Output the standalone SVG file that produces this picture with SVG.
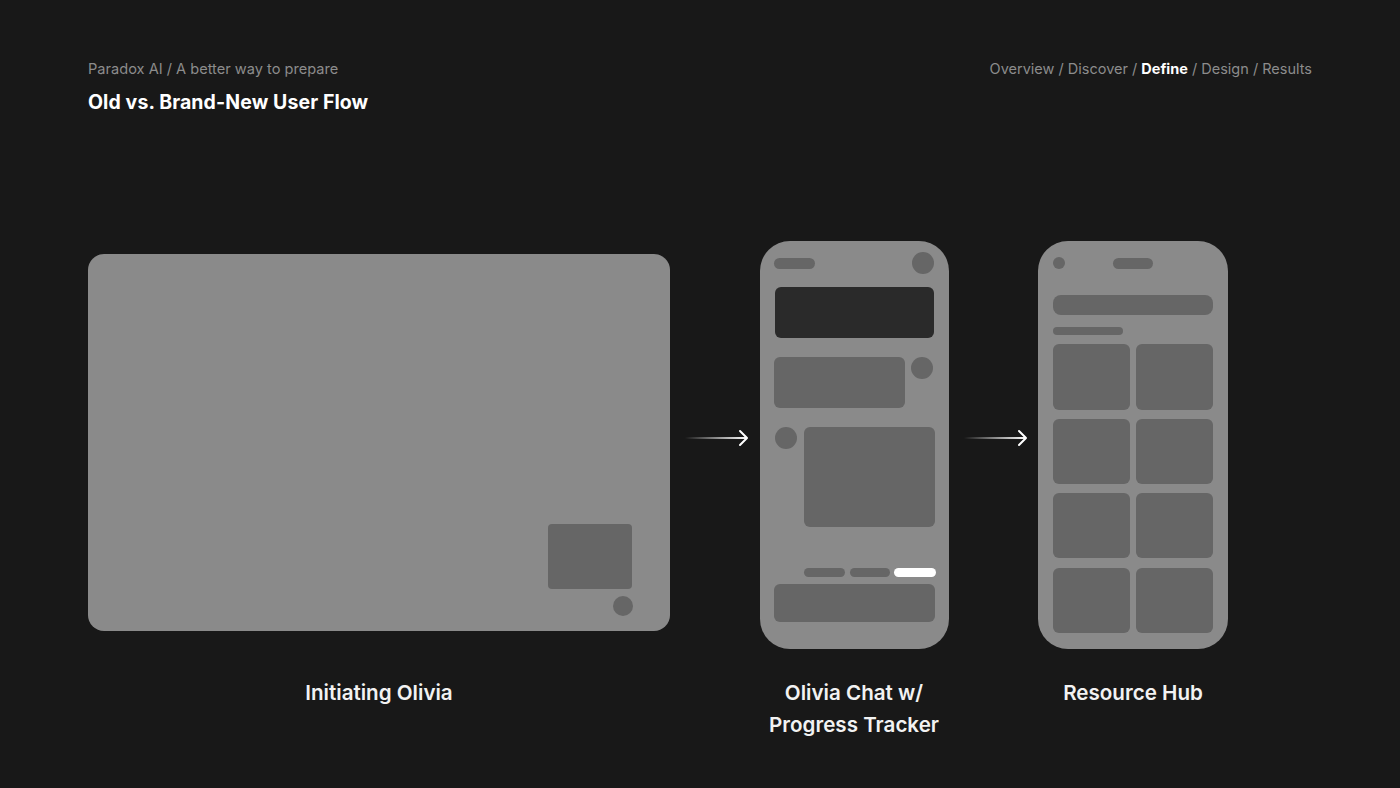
<svg xmlns="http://www.w3.org/2000/svg" width="1400" height="788" viewBox="0 0 1400 788">
<defs>
<style>
.bg{fill:#181818}
.frame{fill:#8a8a8a}
.blk{fill:#666666}
.dark{fill:#2a2a2a}
.crumb{font-family:Inter,"Liberation Sans",sans-serif;font-size:14.6px;fill:#8c8c8c}
.nav{font-family:Inter,"Liberation Sans",sans-serif;font-size:14.5px;fill:#8c8c8c}
.title{font-family:Inter,"Liberation Sans",sans-serif;font-size:19.5px;font-weight:700;fill:#ffffff;letter-spacing:0.1px}
.label{font-family:Inter,"Liberation Sans",sans-serif;font-size:20.6px;font-weight:600;fill:#f2f2f2;text-anchor:middle}
.arrowline{fill:url(#fade)}
.arrowhead{stroke:#ffffff;stroke-width:2;fill:none;stroke-linecap:round;stroke-linejoin:round}
</style>
<linearGradient id="fade" x1="0" y1="0" x2="1" y2="0">
<stop offset="0" stop-color="#ffffff" stop-opacity="0"/>
<stop offset="1" stop-color="#ffffff" stop-opacity="1"/>
</linearGradient>
</defs>
<rect class="bg" x="0" y="0" width="1400" height="788"/>
<g id="header">
<text class="crumb" x="88" y="74">Paradox AI / A better way to prepare</text>
<text class="title" x="88" y="109">Old vs. Brand-New User Flow</text>
<text class="nav" x="1312" y="74" text-anchor="end">Overview / Discover / <tspan font-weight="700" fill="#ffffff">Define</tspan> / Design / Results</text>
</g>
<g id="node-initiating">
<rect class="frame" x="88" y="254" width="582" height="377" rx="16"/>
<rect class="blk" x="548" y="524" width="84" height="65" rx="4"/>
<circle class="blk" cx="623" cy="606" r="10"/>
<text class="label" x="379" y="700">Initiating Olivia</text>
</g>
<g id="node-chat">
<rect class="frame" x="760" y="241" width="189" height="408" rx="30"/>
<rect class="blk" x="774" y="258" width="41" height="11" rx="5.5"/>
<circle class="blk" cx="923" cy="263" r="11"/>
<rect class="dark" x="775" y="287" width="159" height="51" rx="6"/>
<rect class="blk" x="774" y="357" width="131" height="51" rx="6"/>
<circle class="blk" cx="922" cy="368" r="11"/>
<circle class="blk" cx="786" cy="438" r="11"/>
<rect class="blk" x="804" y="427" width="131" height="100" rx="6"/>
<rect class="blk" x="804" y="568" width="41" height="9" rx="4.5"/>
<rect class="blk" x="850" y="568" width="40" height="9" rx="4.5"/>
<rect fill="#ffffff" x="894" y="568" width="42" height="9" rx="4.5"/>
<rect class="blk" x="774" y="584" width="161" height="38" rx="6"/>
<text class="label" x="854" y="700">Olivia Chat w/</text>
<text class="label" x="854" y="732">Progress Tracker</text>
</g>
<g id="node-hub">
<rect class="frame" x="1038" y="241" width="190" height="408" rx="30"/>
<circle class="blk" cx="1059" cy="263" r="6"/>
<rect class="blk" x="1113" y="258" width="40" height="11" rx="5.5"/>
<rect class="blk" x="1053" y="295" width="160" height="20" rx="8"/>
<rect class="blk" x="1053" y="327" width="70" height="8" rx="4"/>
<rect class="blk" x="1053" y="344" width="77" height="66" rx="6"/>
<rect class="blk" x="1136" y="344" width="77" height="66" rx="6"/>
<rect class="blk" x="1053" y="419" width="77" height="65" rx="6"/>
<rect class="blk" x="1136" y="419" width="77" height="65" rx="6"/>
<rect class="blk" x="1053" y="493" width="77" height="65" rx="6"/>
<rect class="blk" x="1136" y="493" width="77" height="65" rx="6"/>
<rect class="blk" x="1053" y="568" width="77" height="65" rx="6"/>
<rect class="blk" x="1136" y="568" width="77" height="65" rx="6"/>
<text class="label" x="1133" y="700">Resource Hub</text>
</g>
<g id="connectors">
<rect class="arrowline" x="685" y="437" width="62" height="2"/>
<polyline class="arrowhead" points="740,431 747,438 740,445"/>
<rect class="arrowline" x="964" y="437" width="62" height="2"/>
<polyline class="arrowhead" points="1019,431 1026,438 1019,445"/>
</g>
</svg>
